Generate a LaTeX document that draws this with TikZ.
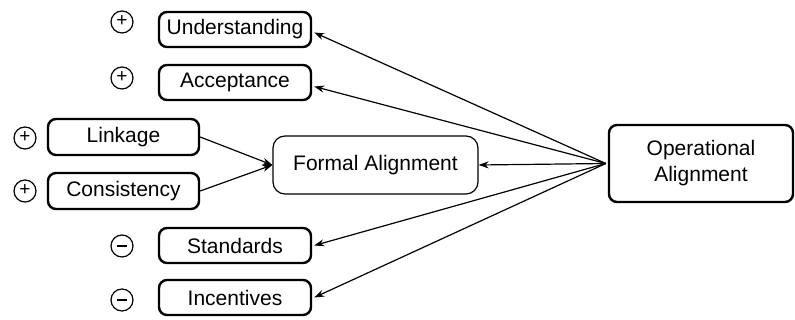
\documentclass[tikz,border=0pt]{standalone}
\usepackage{fontspec}
\setmainfont{Liberation Sans}
\usetikzlibrary{arrows.meta}
\begin{document}
\begin{tikzpicture}[x=1pt,y=-1pt,
  every node/.style={font=\fontsize{21}{26}\selectfont},
  factor/.style={draw,line width=2.4pt,rounded corners=8pt,minimum width=152pt,minimum height=35pt,inner sep=0pt},
  signc/.style={draw,circle,line width=1.2pt,minimum size=22pt,inner sep=0pt,font=\fontsize{19}{19}\selectfont},
  conn/.style={line width=1.2pt,-{Stealth[length=10pt,width=7pt]}}]
\useasboundingbox (0,0) rectangle (795,320);
\node[factor] (u) at (235,29.5) {Understanding};
\node[factor] (a) at (235,82.5) {Acceptance};
\node[factor,minimum width=151pt,minimum height=36pt] (l) at (123.5,137) {Linkage};
\node[factor,minimum width=151pt,minimum height=36pt] (c) at (123.5,191) {Consistency};
\node[factor] (s) at (235,245.5) {Standards};
\node[factor] (i) at (235,297.5) {Incentives};
\node[draw,line width=1.2pt,rounded corners=12pt,minimum width=205pt,minimum height=58pt,inner sep=0pt] (f) at (375.5,165) {Formal Alignment};
\node[factor,minimum width=184pt,minimum height=77pt,align=center] (o) at (701,163.5) {Operational\\Alignment};
\node[signc] (pu) at (122,22) {\raisebox{1pt}{+}};
\node[signc] (pa) at (122,78) {\raisebox{1pt}{+}};
\node[signc] (pl) at (25,138) {\raisebox{1pt}{+}};
\node[signc] (pc) at (25,191) {\raisebox{1pt}{+}};
\node[signc] (ms) at (122,246) {\rule[-0.5pt]{10pt}{1.4pt}};
\node[signc] (mi) at (122,300) {\rule[-0.5pt]{10pt}{1.4pt}};
\coordinate (op) at ([xshift=-2pt]o.west);
\draw[conn] (op) -- ([yshift=-3pt,xshift=2pt]u.east);
\draw[conn] (op) -- ([yshift=-4pt,xshift=2pt]a.east);
\draw[conn] (op) -- (f.east);
\draw[conn] (op) -- ([xshift=2pt]s.east);
\draw[conn] (op) -- ([xshift=2pt]i.east);
\draw[conn] (l.east) -- (f.west);
\draw[conn] (c.east) -- (f.west);
\end{tikzpicture}
\end{document}
